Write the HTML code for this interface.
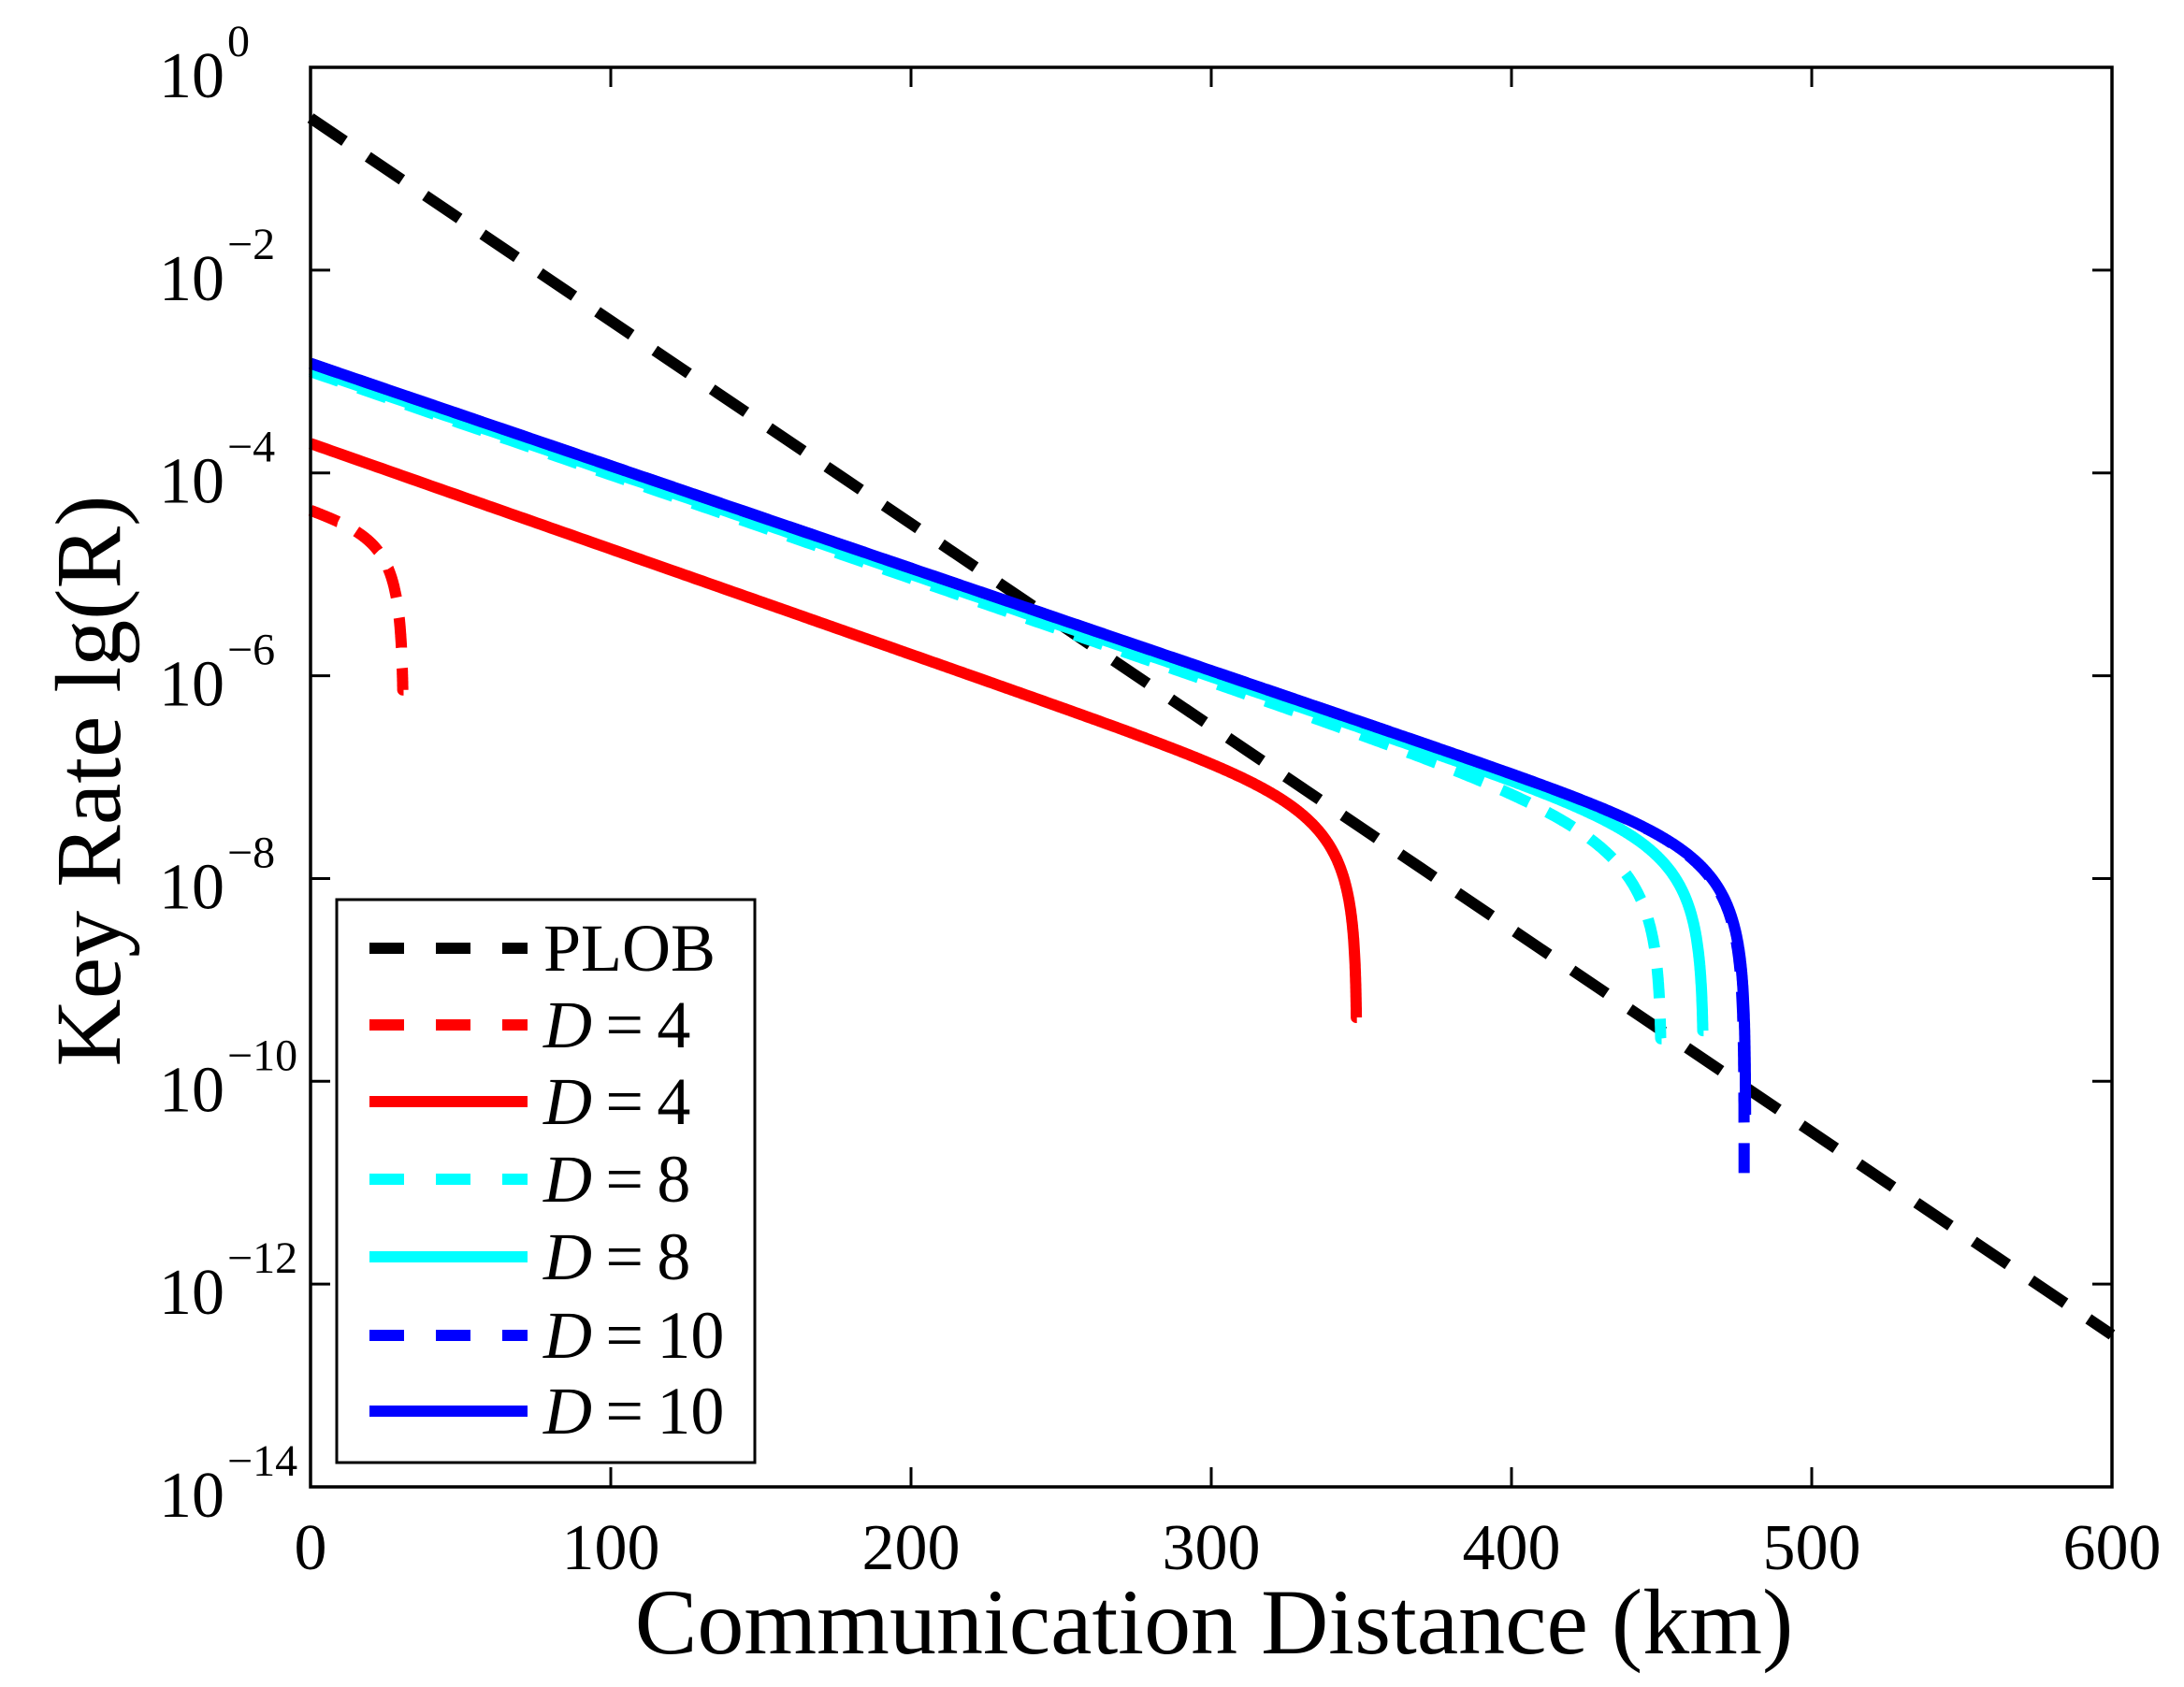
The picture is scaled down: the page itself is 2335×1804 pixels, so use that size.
<!DOCTYPE html>
<html><head><meta charset="utf-8"><style>
html,body{margin:0;padding:0;background:#fff}
svg{display:block}
text{font-family:"Liberation Serif",serif;fill:#000}
</style></head><body>
<svg id="s" width="2335" height="1804" viewBox="0 0 2335 1804" xmlns="http://www.w3.org/2000/svg">
<rect width="2335" height="1804" fill="#fff"/>
<g id="curves"></g>
<rect x="332" y="72" width="1926" height="1518" fill="none" stroke="#000" stroke-width="3.5"/>
<g id="ticks" stroke="#000" stroke-width="3"></g>
<g id="labels"></g>
<text x="1298" y="1768" font-size="100" text-anchor="middle">Communication Distance (km)</text>
<text transform="translate(128,835) rotate(-90)" font-size="100" text-anchor="middle">Key Rate lg(R)</text>
<g id="legend">
<rect x="360" y="962" width="447" height="602" fill="#fff" stroke="#000" stroke-width="3"/>
</g>
</svg>
<script>
var X0=332,X1=2258,Y0=72,YD=108.43;
function px(L){return X0+(X1-X0)*L/600}
function py(v){return Y0-YD*v}
var NS="http://www.w3.org/2000/svg";
function el(p,tag,at,txt){var e=document.createElementNS(NS,tag);for(var k in at)e.setAttribute(k,at[k]);if(txt!==undefined)e.textContent=txt;p.appendChild(e);return e}
var cur=document.getElementById('curves');
function curve(a,b,c,Lend,yend,color,dash){
  var pts=[];var n=600;
  for(var i=0;i<=n;i++){
    var t=i/n;var L=Lend*(1-Math.pow(1-t,3));
    if(L>Lend-0.01)L=Lend-0.01;
    var v=a-b*L+Math.log10(Math.max(1e-12,1-Math.exp((L-Lend)/c)));
    if(v<yend)v=yend;
    pts.push(px(L).toFixed(1)+","+py(v).toFixed(1));
  }
  pts.push(px(Lend).toFixed(1)+","+py(yend).toFixed(1));
  var at={points:pts.join(" "),fill:"none",stroke:color,"stroke-width":"12","stroke-linejoin":"round"};
  if(dash)at["stroke-dasharray"]=dash;
  el(cur,"polyline",at);
}
el(cur,"line",{x1:px(0),y1:py(-0.5),x2:px(600),y2:py(-12.5),stroke:"#000","stroke-width":"12","stroke-dasharray":"44 30"});
curve(-4.36,0.010,8,31,-6.14,"#ff0000","32 22");
curve(-3.71,0.0104,20,348.5,-9.37,"#ff0000");
curve(-3.0,0.0102,30,450,-9.58,"#00ffff","32 22");
curve(-2.98,0.0101,20,464,-9.5,"#00ffff");
curve(-2.92,0.0101,20,477.5,-10.95,"#0000ff","32 22");
curve(-2.92,0.0101,20,478,-10.33,"#0000ff");
var tk=document.getElementById('ticks'),lb=document.getElementById('labels');
for(var i=0;i<=6;i++){
  var x=px(i*100);
  el(tk,"line",{x1:x,y1:1590,x2:x,y2:1569});
  el(tk,"line",{x1:x,y1:72,x2:x,y2:93});
  el(lb,"text",{x:x,y:1678,"font-size":"70","text-anchor":"middle"},String(i*100));
}
for(var j=0;j<=7;j++){
  var y=py(-2*j);
  el(tk,"line",{x1:332,y1:y,x2:353,y2:y});
  el(tk,"line",{x1:2258,y1:y,x2:2237,y2:y});
  el(lb,"text",{x:240,y:y+32,"font-size":"70","text-anchor":"end"},"10");
  el(lb,"text",{x:243,y:y-12,"font-size":"48","text-anchor":"start"},j==0?"0":"\u2212"+(2*j));
}
var lg=document.getElementById('legend');
var rows=[["#000","d","PLOB"],["#ff0000","d","4"],["#ff0000","","4"],["#00ffff","d","8"],["#00ffff","","8"],["#0000ff","d","10"],["#0000ff","","10"]];
var ys=[1014,1096,1178,1261,1344,1428,1509];
for(var r=0;r<rows.length;r++){
  var yy=ys[r];
  var at={x1:395,y1:yy,x2:564,y2:yy,stroke:rows[r][0],"stroke-width":"12"};
  if(rows[r][1])at["stroke-dasharray"]="37 34";
  el(lg,"line",at);
  var t=el(lg,"text",{x:581,y:yy+24,"font-size":"72"});
  if(r==0){t.textContent="PLOB";}
  else{el(t,"tspan",{"font-style":"italic"},"D");el(t,"tspan",{},"\u2009=\u2009"+rows[r][2]);}
}
</script>
</body></html>
